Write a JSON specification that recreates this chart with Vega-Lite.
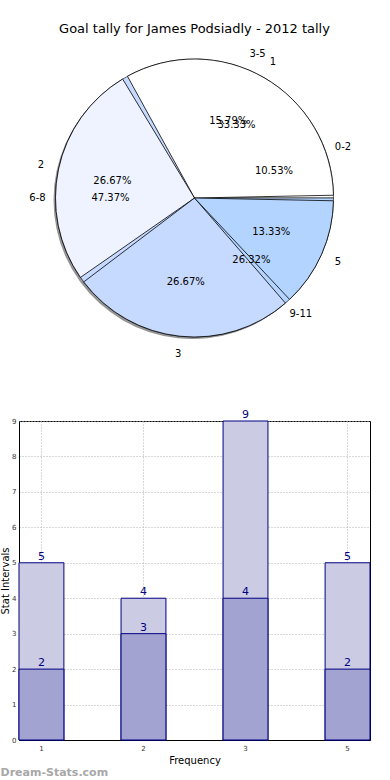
{
  "$schema": "https://vega.github.io/schema/vega-lite/v6.json",
  "padding": {"left": 0, "top": 23, "right": 0, "bottom": 0},
  "bounds": "flush",
  "spacing": 84,
  "config": {"font": "DejaVu Sans", "background": "#ffffff"},
  "datasets": {
    "freq": [
      {"label": "1", "pct": 33.33, "i": 1, "txt": "33.33%"},
      {"label": "2", "pct": 26.67, "i": 2, "txt": "26.67%"},
      {"label": "3", "pct": 26.67, "i": 3, "txt": "26.67%"},
      {"label": "5", "pct": 13.33, "i": 4, "txt": "13.33%"}
    ],
    "intervals": [
      {"label": "0-2", "pct": 10.53, "i": 1, "txt": "10.53%"},
      {"label": "3-5", "pct": 15.79, "i": 2, "txt": "15.79%"},
      {"label": "6-8", "pct": 47.37, "i": 3, "txt": "47.37%"},
      {"label": "9-11", "pct": 26.32, "i": 4, "txt": "26.32%"}
    ],
    "bars": [
      {"freq": "1", "total": 5, "part": 2},
      {"freq": "2", "total": 4, "part": 3},
      {"freq": "3", "total": 9, "part": 4},
      {"freq": "5", "total": 5, "part": 2}
    ]
  },
  "vconcat": [
    {
      "width": 351,
      "height": 278,
      "view": {"stroke": null},
      "title": {"text": "Goal tally for James Podsiadly - 2012 tally", "fontSize": 13, "fontWeight": "normal", "offset": 13, "anchor": "middle", "color": "#000000"},
      "layer": [
        {
          "data": {"name": "freq"},
          "mark": {"type": "arc", "radius": 139, "fill": "#666666", "opacity": 0.7, "xOffset": -2, "yOffset": 2},
          "encoding": {
            "theta": {"field": "pct", "type": "quantitative", "stack": true, "scale": {"range": [1.5708, 7.854]}},
            "order": {"field": "i", "sort": "descending"}
          }
        },
        {
          "data": {"name": "intervals"},
          "mark": {"type": "arc", "radius": 139, "stroke": "#000000", "strokeWidth": 0.6},
          "encoding": {
            "theta": {"field": "pct", "type": "quantitative", "stack": true, "scale": {"range": [1.5708, 7.854]}},
            "order": {"field": "i", "sort": "descending"},
            "color": {"field": "label", "type": "nominal", "scale": {"domain": ["0-2", "3-5", "6-8", "9-11"], "range": ["#ffffff", "#eef3ff", "#c6d9ff", "#b3d4ff"]}, "legend": null}
          }
        },
        {
          "data": {"name": "freq"},
          "mark": {"type": "arc", "radius": 139, "padAngle": 0.04, "stroke": "#000000", "strokeWidth": 0.8},
          "encoding": {
            "theta": {"field": "pct", "type": "quantitative", "stack": true, "scale": {"range": [1.5708, 7.854]}},
            "order": {"field": "i", "sort": "descending"},
            "color": {"field": "label", "type": "nominal", "scale": {"domain": ["1", "2", "3", "5"], "range": ["#ffffff", "#eef3ff", "#c6d9ff", "#b3d4ff"]}, "legend": null}
          }
        },
        {
          "data": {"name": "freq"},
          "mark": {"type": "text", "radius": 157, "fontSize": 10, "color": "#000000"},
          "encoding": {
            "theta": {"field": "pct", "type": "quantitative", "stack": true, "scale": {"range": [1.5708, 7.854]}},
            "order": {"field": "i", "sort": "descending"},
            "text": {"field": "label"}
          }
        },
        {
          "data": {"name": "freq"},
          "mark": {"type": "text", "radius": 84, "fontSize": 10, "color": "#000000"},
          "encoding": {
            "theta": {"field": "pct", "type": "quantitative", "stack": true, "scale": {"range": [1.5708, 7.854]}},
            "order": {"field": "i", "sort": "descending"},
            "text": {"field": "txt"}
          }
        },
        {
          "data": {"name": "intervals"},
          "mark": {"type": "text", "radius": 157, "fontSize": 10, "color": "#000000"},
          "encoding": {
            "theta": {"field": "pct", "type": "quantitative", "stack": true, "scale": {"range": [1.5708, 7.854]}},
            "order": {"field": "i", "sort": "descending"},
            "text": {"field": "label"}
          }
        },
        {
          "data": {"name": "intervals"},
          "mark": {"type": "text", "radius": 84, "fontSize": 10, "color": "#000000"},
          "encoding": {
            "theta": {"field": "pct", "type": "quantitative", "stack": true, "scale": {"range": [1.5708, 7.854]}},
            "order": {"field": "i", "sort": "descending"},
            "text": {"field": "txt"}
          }
        }
      ],
      "resolve": {"scale": {"theta": "independent", "color": "independent"}}
    },
    {
      "width": 351,
      "height": 319,
      "data": {"name": "bars"},
      "view": {"stroke": "#000000", "strokeWidth": 1},
      "title": {"text": "Dream-Stats.com", "orient": "bottom", "anchor": "start", "fontSize": 11, "fontWeight": "bold", "color": "#a8a8a8", "offset": 2},
      "encoding": {
        "x": {
          "field": "freq", "type": "ordinal",
          "scale": {"type": "band", "paddingInner": 0.56, "paddingOuter": 0},
          "axis": {"title": "Frequency", "titleFontSize": 10, "titleFontWeight": "normal", "titleColor": "#000000", "titlePadding": 4, "labelAngle": 0, "labelFontSize": 7, "labelColor": "#333333", "labelPadding": 4, "bandPosition": 0.5, "grid": true, "gridDash": [1, 2], "gridColor": "#b0b0b0", "domainColor": "#000000", "ticks": false}
        }
      },
      "layer": [
        {
          "mark": {"type": "bar", "fill": "#cbcbe4", "stroke": "#000080", "strokeWidth": 1},
          "encoding": {
            "y": {"field": "total", "type": "quantitative", "title": "Stat Intervals", "scale": {"domain": [0, 9], "nice": false},
              "axis": {"values": [0, 1, 2, 3, 4, 5, 6, 7, 8, 9], "labelOverlap": false, "titleFontSize": 10, "titleFontWeight": "normal", "titleColor": "#000000", "titlePadding": 1, "labelFontSize": 7, "labelColor": "#333333", "labelPadding": 3, "grid": true, "gridDash": [1, 2], "gridColor": "#b0b0b0", "domainColor": "#000000", "ticks": false}}
          }
        },
        {
          "mark": {"type": "bar", "fill": "#a3a3d1", "stroke": "#000080", "strokeWidth": 1},
          "encoding": {"y": {"field": "part", "type": "quantitative", "title": "Stat Intervals",
              "axis": {"values": [0, 1, 2, 3, 4, 5, 6, 7, 8, 9], "labelOverlap": false, "titleFontSize": 10, "titleFontWeight": "normal", "titleColor": "#000000", "titlePadding": 1, "labelFontSize": 7, "labelColor": "#333333", "labelPadding": 3, "grid": true, "gridDash": [1, 2], "gridColor": "#b0b0b0", "domainColor": "#000000", "ticks": false}}}
        },
        {
          "mark": {"type": "text", "baseline": "bottom", "dy": -1, "fontSize": 11, "color": "#000080"},
          "encoding": {"y": {"field": "total", "type": "quantitative", "title": "Stat Intervals",
              "axis": {"values": [0, 1, 2, 3, 4, 5, 6, 7, 8, 9], "labelOverlap": false, "titleFontSize": 10, "titleFontWeight": "normal", "titleColor": "#000000", "titlePadding": 1, "labelFontSize": 7, "labelColor": "#333333", "labelPadding": 3, "grid": true, "gridDash": [1, 2], "gridColor": "#b0b0b0", "domainColor": "#000000", "ticks": false}}, "text": {"field": "total"}}
        },
        {
          "mark": {"type": "text", "baseline": "bottom", "dy": -1, "fontSize": 11, "color": "#000080"},
          "encoding": {"y": {"field": "part", "type": "quantitative", "title": "Stat Intervals",
              "axis": {"values": [0, 1, 2, 3, 4, 5, 6, 7, 8, 9], "labelOverlap": false, "titleFontSize": 10, "titleFontWeight": "normal", "titleColor": "#000000", "titlePadding": 1, "labelFontSize": 7, "labelColor": "#333333", "labelPadding": 3, "grid": true, "gridDash": [1, 2], "gridColor": "#b0b0b0", "domainColor": "#000000", "ticks": false}}, "text": {"field": "part"}}
        }
      ]
    }
  ]
}
